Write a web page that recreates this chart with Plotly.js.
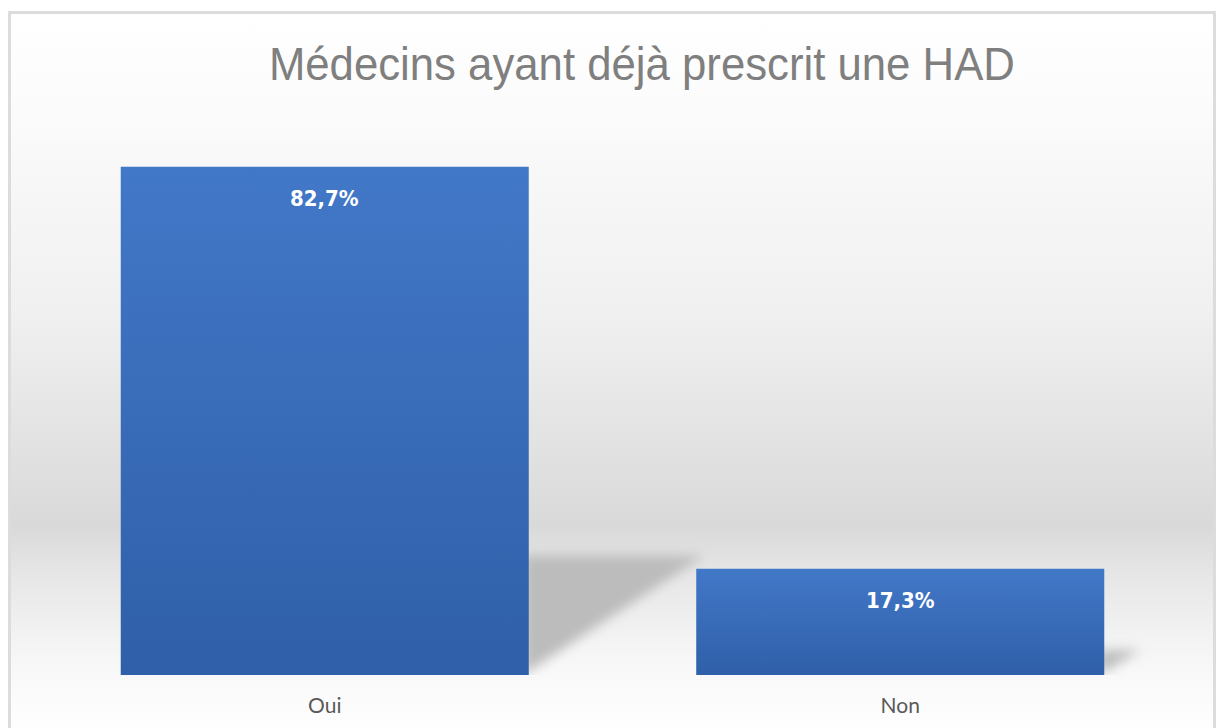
<!DOCTYPE html>
<html>
<head>
<meta charset="utf-8">
<script src="https://cdn.plot.ly/plotly-3.0.1.min.js"></script>
<style>
  html, body { margin: 0; padding: 0; background: #ffffff; width: 1218px; height: 728px; overflow: hidden; }
  #frame {
    position: absolute; left: 8px; top: 11px; width: 1202px; height: 730px;
    border: 3px solid #dcdcdc;
    background: linear-gradient(to bottom, #ffffff 0px, #fcfcfc 80px, #f0f0f0 300px, #dedede 470px, #d9d9d9 510px, #e6e6e6 560px, #f6f6f6 640px, #fdfdfd 700px, #ffffff 730px);
  }
  #chart { position: absolute; left: 0; top: 0; width: 1218px; height: 728px; }
</style>
</head>
<body>
<svg width="0" height="0" style="position:absolute">
  <defs>
    <linearGradient id="barGrad" x1="0" y1="0" x2="0" y2="1">
      <stop offset="0" stop-color="#4278c8"/>
      <stop offset="1" stop-color="#2f5fa8"/>
    </linearGradient>
    <filter id="shadowBlur" x="-50%" y="-50%" width="200%" height="200%">
      <feGaussianBlur stdDeviation="6"/>
    </filter>
  </defs>
</svg>
<div id="frame"></div>
<div id="chart"></div>
<script>
const categories = ["Oui", "Non"];
const values = [82.7, 17.3];
const valueLabels = ["82,7%", "17,3%"];
const chartTitle = "Médecins ayant déjà prescrit une HAD";

const xIdx = categories.map((c, i) => i);
const barWidth = 0.709;
const half = barWidth / 2;

const shadowShapes = values.map((v, i) => {
  const x0 = i + half;
  const h = 0.235 * v;
  const w = 0.00368 * v;
  return {
    type: 'path', xref: 'x', yref: 'y', layer: 'below',
    path: `M ${x0 - 0.01},0 L ${x0 - 0.01},${h} L ${x0 + w},${h} Z`,
    fillcolor: '#bcbcbc', line: { width: 0 }
  };
});

const annotations = values.map((v, i) => ({
  x: i, y: v, xref: 'x', yref: 'y', yshift: -32,
  text: valueLabels[i], showarrow: false,
  font: { family: '"DejaVu Sans Condensed", "Liberation Sans Narrow", "DejaVu Sans", sans-serif', size: 22, color: '#ffffff', weight: 'bold' }
}));

const trace = {
  type: 'bar', x: xIdx, y: values, width: barWidth,
  marker: { color: '#3a6cbb', line: { width: 0 } },
  hoverinfo: 'none'
};

const layout = {
  width: 1218, height: 728,
  paper_bgcolor: 'rgba(0,0,0,0)', plot_bgcolor: 'rgba(0,0,0,0)',
  margin: { l: 37, r: 30, t: 122, b: 53 },
  title: {
    text: chartTitle, x: 0.527, xanchor: 'center', y: 0.912, yanchor: 'middle',
    font: { family: '"Liberation Sans", Arial, sans-serif', size: 46, color: '#7f7f7f' }
  },
  xaxis: {
    type: 'linear', range: [-0.5, 1.5], tickvals: xIdx, ticktext: categories,
    showgrid: false, zeroline: false, showline: false, ticks: '',
    ticklabelstandoff: 16,
    tickfont: { family: 'Lato, "DejaVu Sans", sans-serif', size: 21, color: '#595959' }
  },
  yaxis: { range: [0, 90], visible: false, showgrid: false, zeroline: false },
  shapes: shadowShapes,
  annotations: annotations,
  showlegend: false
};

Plotly.newPlot('chart', [trace], layout, { staticPlot: true, displayModeBar: false }).then(() => {
  document.querySelectorAll('#chart .bars path').forEach(p => {
    p.style.fill = 'url(#barGrad)';
  });
  document.querySelectorAll('#chart .shapelayer path').forEach(p => {
    p.setAttribute('filter', 'url(#shadowBlur)');
  });
  const t = document.querySelector('#chart .gtitle');
  if (t) {
    t.setAttribute('textLength', '746');
    t.setAttribute('lengthAdjust', 'spacingAndGlyphs');
  }
});
</script>
</body>
</html>
